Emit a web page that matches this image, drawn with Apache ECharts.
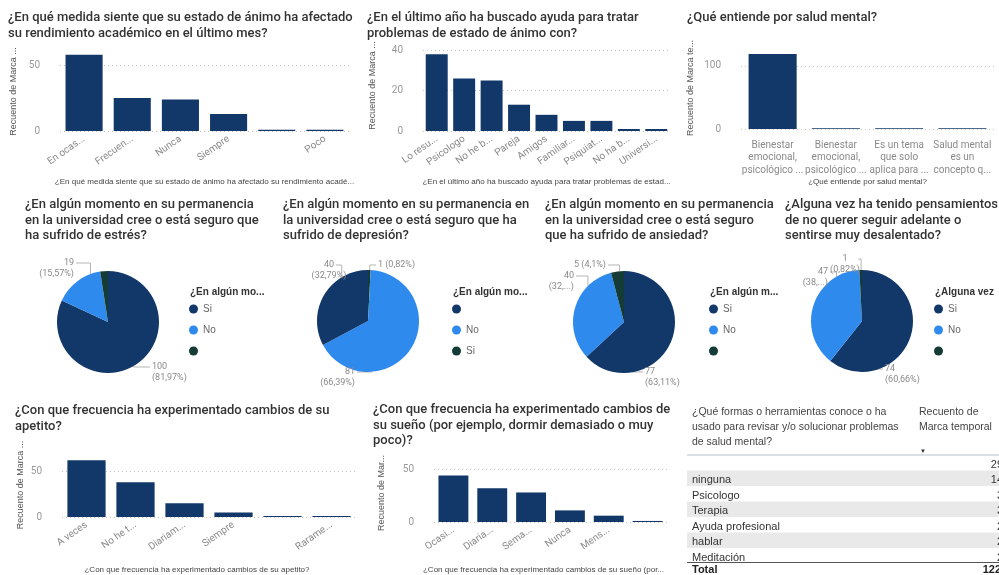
<!DOCTYPE html>
<html>
<head>
<meta charset="utf-8">
<script src="https://cdn.jsdelivr.net/npm/echarts@6/dist/echarts.min.js"></script>
<style>
  html, body { margin: 0; padding: 0; background: #fff; }
  #main { width: 999px; height: 575px; }
</style>
</head>
<body>
<div id="main"></div>
<script>
// datos de las barras
const animoCats = ['En ocas...', 'Frecuen...', 'Nunca', 'Siempre', '', 'Poco'];
const animoVals = [58, 25, 24, 13, 1, 1];
const ayudaCats = ['Lo resu...', 'Psicologo', 'No he b...', 'Pareja', 'Amigos', 'Familiar...', 'Psiquiat...', 'No ha b...', 'Universi...'];
const ayudaVals = [38, 26, 25, 13, 8, 5, 5, 1, 1];
const saludCats = ['Bienestar\nemocional,\npsicológico ...', 'Bienestar\nemocional,\npsicológico ...', 'Es un tema\nque solo\naplica para ...', 'Salud mental\nes un\nconcepto q...'];
const saludVals = [119, 1, 1, 1];
const apetitoCats = ['A veces', 'No he t...', 'Diariam...', 'Siempre', '', 'Rarame...'];
const apetitoVals = [62, 38, 15, 5, 1, 1];
const suenoCats = ['Ocasi...', 'Diaria...', 'Sema...', 'Nunca', 'Mens...', ''];
const suenoVals = [44, 32, 28, 11, 6, 1];

// datos de las tortas
const estresNames = ['Si', 'No', ' '];
const estresVals = [100, 19, 3];
const depresionNames = [' ', 'No', 'Si'];
const depresionVals = [1, 81, 40];
const ansiedadNames = ['Si', 'No', ' '];
const ansiedadVals = [77, 40, 5];
const desalientoNames = ['Si', 'No', ' '];
const desalientoVals = [74, 47, 1];

// tabla
const toolNames = ['', 'ninguna', 'Psicologo', 'Terapia', 'Ayuda profesional', 'hablar', 'Meditación'];
const toolCounts = [29, 14, 3, 3, 2, 2, 2];
const toolTotal = 122;

const navy = '#12386a';
const blue = '#2f8aee';
const green = '#143b35';
const pieColors = [navy, blue, green];
const pieR = 51;
const titleFont = 'Roboto, "Noto Sans", sans-serif';
const bodyFont = '"Liberation Sans", Arial, sans-serif';

const barDefs = [
  { cats: animoCats, vals: animoVals, grid: { left: 60, top: 52, width: 289, height: 79 }, max: 60, interval: 50,
    yName: 'Recuento de Marca ...', yGap: 42, xName: '¿En qué medida siente que su estado de ánimo ha afectado su rendimiento acadé...', xGap: 47, xShift: 0, gap: '23%', rotate: 35 },
  { cats: ayudaCats, vals: ayudaVals, grid: { left: 423, top: 40, width: 247, height: 91 }, max: 45, interval: 20,
    yName: 'Recuento de Marca ...', yGap: 46, xName: '¿En el último año ha buscado ayuda para tratar problemas de estad...', xGap: 47, xShift: 0, gap: '20%', rotate: 35 },
  { cats: saludCats, vals: saludVals, grid: { left: 741, top: 47, width: 253, height: 82 }, max: 130, interval: 100,
    yName: 'Recuento de Marca te...', yGap: 46, xName: '¿Qué entiende por salud mental?', xGap: 47, xShift: 0, gap: '24%', rotate: 0 },
  { cats: apetitoCats, vals: apetitoVals, grid: { left: 62, top: 453, width: 294, height: 70 }, max: 70, interval: 50,
    yName: 'Recuento de Marca ...', yGap: 37, xName: '¿Con que frecuencia ha experimentado cambios de su apetito?', xGap: 49, xShift: 24, gap: '22%', rotate: 35 },
  { cats: suenoCats, vals: suenoVals, grid: { left: 434, top: 464, width: 233, height: 64 }, max: 55, interval: 50,
    yName: 'Recuento de Mar...', yGap: 48, xName: '¿Con que frecuencia ha experimentado cambios de su sueño (por...', xGap: 44, xShift: 14, gap: '23%', rotate: 35 }
];

// labelAt: [ángulo donde nace la guía, dx, dy del final de la guía, centro del texto si va centrado]
const pieDefs = [
  { names: estresNames, vals: estresVals, center: [108, 322], modes: ['two', 'two', 'none'],
    labelAt: [[150, 42, 45], [340, -32, -59], null], legendTitle: '¿En algún mo...', legendLeft: 190 },
  { names: depresionNames, vals: depresionVals, center: [368, 321], modes: ['one', 'two', 'two'],
    labelAt: [[2, 8, -56], [175, -11, 51], [329, -32, -56, -39]], legendTitle: '¿En algún mo...', legendLeft: 453 },
  { names: ansiedadNames, vals: ansiedadVals, center: [624, 322], modes: ['two', 'short', 'one'],
    labelAt: [[170, 19, 50], [315, -48, -46], [355, -16, -57]], legendTitle: '¿En algún m...', legendLeft: 710 },
  { names: desalientoNames, vals: desalientoVals, center: [862, 321], modes: ['two', 'short', 'two'],
    labelAt: [[165, 21, 48], [330, -32, -49], [359, -4, -62, -17]], legendTitle: '¿Alguna vez', legendLeft: 935 }
];

const titleDefs = [
  { text: '¿En qué medida siente que su estado de ánimo ha afectado\nsu rendimiento académico en el último mes?', left: 8, top: 10 },
  { text: '¿En el último año ha buscado ayuda para tratar\nproblemas de estado de ánimo con?', left: 367, top: 10 },
  { text: '¿Qué entiende por salud mental?', left: 687, top: 10 },
  { text: '¿En algún momento en su permanencia\nen la universidad cree o está seguro que\nha sufrido de estrés?', left: 25, top: 197 },
  { text: '¿En algún momento en su permanencia en\nla universidad cree o está seguro que ha\nsufrido de depresión?', left: 283, top: 197 },
  { text: '¿En algún momento en su permanencia\nen la universidad cree o está seguro\nque ha sufrido de ansiedad?', left: 545, top: 197 },
  { text: '¿Alguna vez ha tenido pensamientos\nde no querer seguir adelante o\nsentirse muy desalentado?', left: 785, top: 197 },
  { text: '¿Con que frecuencia ha experimentado cambios de su\napetito?', left: 15, top: 403 },
  { text: '¿Con que frecuencia ha experimentado cambios de\nsu sueño (por ejemplo, dormir demasiado o muy\npoco)?', left: 373, top: 402 }
];

function pctText(p) {
  return String(parseFloat(p.percent.toFixed(2))).replace('.', ',');
}

let titles = titleDefs.map(t => ({
  text: t.text, left: t.left, top: t.top, padding: 0,
  textStyle: { fontFamily: titleFont, fontSize: 13, fontWeight: 500, color: '#333', lineHeight: 15.5 }
}));
pieDefs.forEach(d => {
  titles.push({
    text: d.legendTitle, left: d.legendLeft, top: 287, padding: 0,
    textStyle: { fontFamily: bodyFont, fontSize: 10, fontWeight: 'bold', color: '#333' }
  });
});

let grids = [], xAxes = [], yAxes = [], series = [];
barDefs.forEach((d, i) => {
  grids.push(d.grid);
  xAxes.push({
    type: 'category', gridIndex: i, data: d.cats,
    name: d.xName, nameLocation: 'middle', nameGap: d.xGap,
    nameTextStyle: { fontFamily: bodyFont, fontSize: 8, color: '#444', padding: [0, d.xShift, 0, 0] },
    axisLine: { show: false }, axisTick: { show: false },
    axisLabel: d.rotate ? { interval: 0, rotate: d.rotate, margin: 7, fontFamily: titleFont, fontSize: 10, color: '#8a8a8a' }
                        : { interval: 0, margin: 10, fontFamily: titleFont, fontSize: 10, color: '#8a8a8a', lineHeight: 12.5 }
  });
  yAxes.push({
    type: 'value', gridIndex: i, min: 0, max: d.max, interval: d.interval,
    name: d.yName, nameLocation: 'middle', nameGap: d.yGap, nameRotate: 90,
    nameTextStyle: { fontFamily: bodyFont, fontSize: 9, color: '#555' },
    axisLabel: { margin: 20, showMaxLabel: false, fontFamily: titleFont, fontSize: 10, color: '#999' },
    splitLine: { showMaxLine: false, lineStyle: { type: [1, 3], color: '#c4c4c4' } }
  });
  series.push({
    type: 'bar', xAxisIndex: i, yAxisIndex: i, data: d.vals,
    barCategoryGap: d.gap, itemStyle: { color: navy }, silent: true
  });
});

let legends = [];
pieDefs.forEach((d, k) => {
  series.push({
    type: 'pie', name: 'torta' + k, center: d.center, radius: pieR, startAngle: 90,
    color: pieColors, silent: true, avoidLabelOverlap: false,
    data: d.vals.map((v, j) => {
      const item = { name: d.names[j], value: v };
      if (d.modes[j] === 'none') { item.label = { show: false }; item.labelLine = { show: false }; }
      return item;
    }),
    label: {
      fontFamily: titleFont, fontSize: 9, color: '#8a8a8a', lineHeight: 11,
      formatter: p => {
        const m = d.modes[p.dataIndex];
        if (m === 'one') return p.value + ' (' + pctText(p) + '%)';
        if (m === 'short') return p.value + '\n(' + Math.floor(p.percent) + ',...)';
        return p.value + '\n(' + pctText(p) + '%)';
      }
    },
    labelLine: { length: 5, length2: 10, lineStyle: { color: '#b5b5b5', width: 1 } },
    labelLayout: p => {
      const a = d.labelAt[p.dataIndex];
      if (!a) return {};
      const rad = a[0] * Math.PI / 180;
      const ex = d.center[0] + pieR * Math.sin(rad), ey = d.center[1] - pieR * Math.cos(rad);
      const lx = d.center[0] + a[1], ly = d.center[1] + a[2];
      const side = a[1] < 0 ? -1 : 1;
      const centered = a.length > 3;
      return {
        x: centered ? d.center[0] + a[3] : lx + side * 2, y: ly - 5.5,
        align: centered ? 'center' : (side < 0 ? 'right' : 'left'), verticalAlign: 'top',
        labelLinePoints: [[ex, ey], [ex, ly], [lx, ly]]
      };
    }
  });
  legends.push({
    orient: 'vertical', left: d.legendLeft - 1, top: 304, itemGap: 11, itemWidth: 9, itemHeight: 9,
    icon: 'circle', selectedMode: false, padding: 0,
    textStyle: { fontFamily: bodyFont, fontSize: 10, color: '#666' },
    data: d.names.map((n, j) => ({ name: n, itemStyle: { color: pieColors[j] } }))
  });
});

// tabla de herramientas
const rowTop = 455, rowH = 15.5, tblLeft = 687, tblRight = 999;
let graphics = [];
const tfont = '10.5px ' + bodyFont;
['¿Qué formas o herramientas conoce o ha', 'usado para revisar y/o solucionar problemas', 'de salud mental?'].forEach((s, i) => {
  graphics.push({ type: 'text', x: 692, y: 412 + i * 15, style: { text: s, font: tfont, fill: '#444', verticalAlign: 'middle' } });
});
['Recuento de', 'Marca temporal'].forEach((s, i) => {
  graphics.push({ type: 'text', x: 919, y: 412 + i * 15, style: { text: s, font: tfont, fill: '#444', verticalAlign: 'middle' } });
});
graphics.push({ type: 'text', x: 920, y: 451, style: { text: '▼', font: '6px ' + bodyFont, fill: '#333', verticalAlign: 'middle' } });
toolNames.forEach((n, i) => {
  const y = rowTop + i * rowH;
  if (i % 2 === 1) graphics.push({ type: 'rect', shape: { x: tblLeft, y: y, width: tblRight - tblLeft, height: rowH }, style: { fill: '#e9e9e9' } });
  graphics.push({ type: 'text', x: 692, y: y + rowH / 2 + 2, style: { text: n, font: '11px ' + bodyFont, fill: '#333', verticalAlign: 'middle' } });
  graphics.push({ type: 'text', x: 1003, y: y + rowH / 2 + 2, style: { text: String(toolCounts[i]), font: '11px ' + bodyFont, fill: '#333', align: 'right', verticalAlign: 'middle' } });
});
graphics.push({ type: 'line', shape: { x1: tblLeft, y1: rowTop, x2: tblRight, y2: rowTop }, style: { stroke: '#b8c0c8', lineWidth: 1 } });
graphics.push({ type: 'rect', shape: { x: tblLeft, y: 562, width: tblRight - tblLeft, height: 13 }, style: { fill: '#fff' } });
graphics.push({ type: 'line', shape: { x1: tblLeft, y1: 562.5, x2: tblRight, y2: 562.5 }, style: { stroke: '#555', lineWidth: 1 } });
graphics.push({ type: 'text', x: 692, y: 570, style: { text: 'Total', font: 'bold 11px ' + bodyFont, fill: '#222', verticalAlign: 'middle' } });
graphics.push({ type: 'text', x: 1001, y: 570, style: { text: String(toolTotal), font: 'bold 11px ' + bodyFont, fill: '#222', align: 'right', verticalAlign: 'middle' } });

const chart = echarts.init(document.getElementById('main'));
chart.setOption({
  animation: false,
  backgroundColor: '#fff',
  title: titles,
  grid: grids,
  xAxis: xAxes,
  yAxis: yAxes,
  legend: legends,
  series: series,
  graphic: graphics
});
</script>
</body>
</html>
